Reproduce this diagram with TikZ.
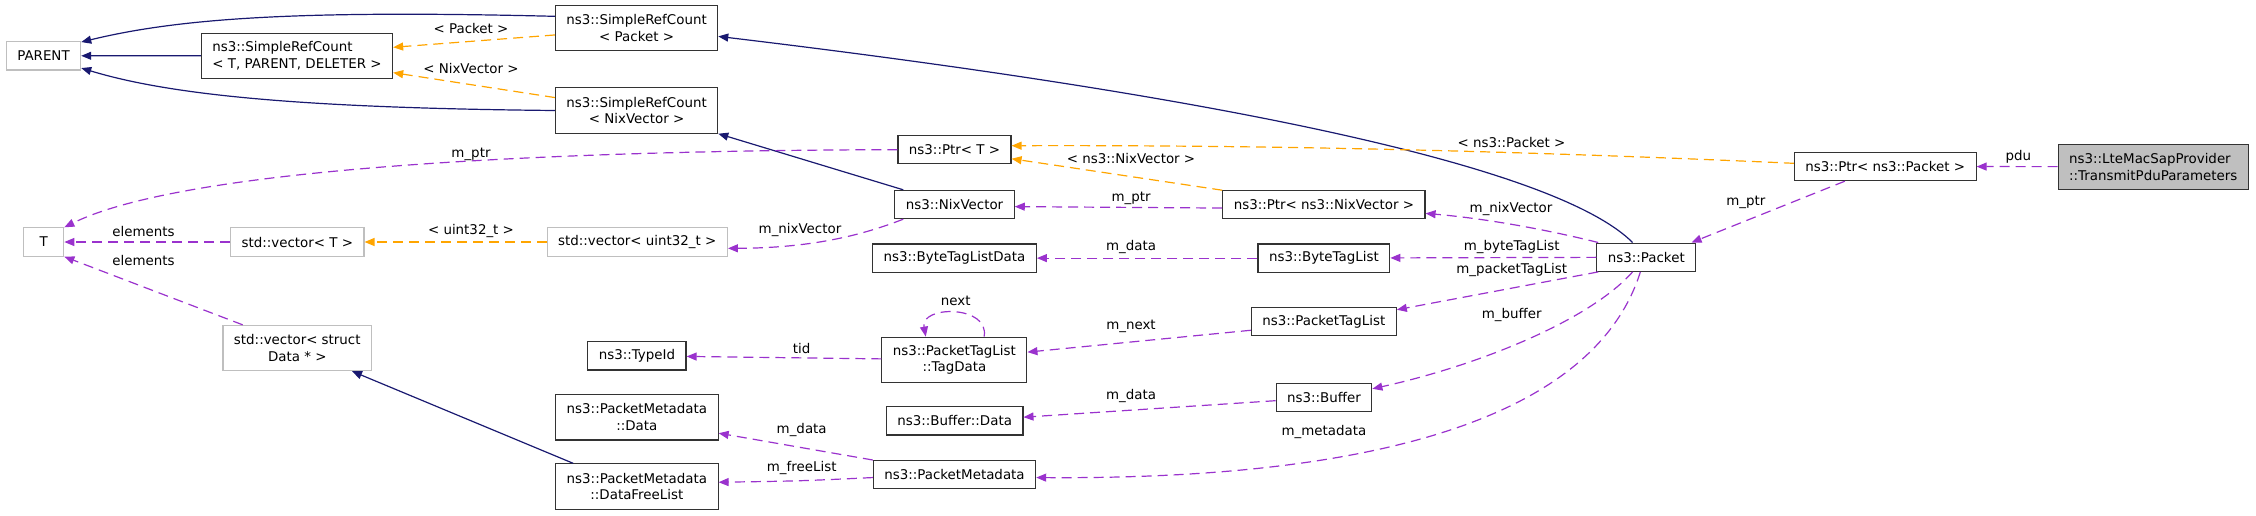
\documentclass[tikz,border=0pt]{standalone}
\usepackage{fontspec}
\setmainfont{DejaVu Sans}
\usepackage{tikz}
\usetikzlibrary{positioning,arrows.meta}
\definecolor{navyblue}{HTML}{191970}
\definecolor{tmplorange}{HTML}{FFA500}
\definecolor{usepurple}{HTML}{9A32CD}
\definecolor{lightgrey}{HTML}{BFBFBF}
\newcommand{\dfont}{\fontsize{13.4}{16.7}\selectfont}

\begin{document}
\begin{tikzpicture}[
  x=1pt, y=-1pt,
  >={Triangle[length=10pt,width=8pt]},
  box/.style={rectangle, draw=black!80, line width=1.1pt, font=\dfont, inner xsep=11pt, inner ysep=2pt, minimum height=28.3pt, align=center},
  extbox/.style={box, draw=lightgrey},
  tall/.style={minimum height=45.3pt},
  inh/.style={->, draw=navyblue, line width=1.2pt},
  tmpl/.style={->, draw=tmplorange, line width=1.2pt, dash pattern=on 10pt off 6pt},
  use/.style={->, draw=usepurple, line width=1.2pt, dash pattern=on 10pt off 6pt},
  lbl/.style={font=\dfont, inner sep=0pt}
]
\useasboundingbox (0,0) rectangle (2256,515);

\node[extbox] (parent) at (43.5,55.8) {PARENT};
\node[box, tall, align=left] (src) at (297,55.7) {ns3::SimpleRefCount\\< T, PARENT, DELETER >};
\node[box, tall] (srcpkt) at (636.6,27.8) {ns3::SimpleRefCount\\< Packet >};
\node[box, tall] (srcnix) at (636.6,110.5) {ns3::SimpleRefCount\\< NixVector >};
\node[extbox, minimum width=40pt] (t) at (43.8,242) {T};
\node[extbox] (vect) at (297.3,242) {std::vector< T >};
\node[extbox] (vecu) at (637.3,242) {std::vector< uint32\_t >};
\node[extbox, tall] (vecd) at (297.3,348) {std::vector< struct\\Data * >};
\node[box] (nix) at (954.5,204.5) {ns3::NixVector};
\node[box, above=25.4pt of nix] (ptrt) {ns3::Ptr< T >};
\node[box, below=24.2pt of nix] (btld) {ns3::ByteTagListData};
\node[box] (ptrnix) at (1323.9,204.5) {ns3::Ptr< ns3::NixVector >};
\node[box, below=24.2pt of ptrnix] (btl) {ns3::ByteTagList};
\node[box] (ptl) at (1323.8,321.3) {ns3::PacketTagList};
\node[box] (buf) at (1324,397.3) {ns3::Buffer};
\node[box] (packet) at (1646.3,257.2) {ns3::Packet};
\node[box] (ptrpkt) at (1885.2,166.5) {ns3::Ptr< ns3::Packet >};
\node[box, tall, align=left, fill=lightgrey] (lte) at (2153.3,166.7) {ns3::LteMacSapProvider\\::TransmitPduParameters};
\node[box] (typeid) at (636.9,355.8) {ns3::TypeId};
\node[box, tall] (tagdata) at (954.4,359.8) {ns3::PacketTagList\\::TagData};
\node[box] (bufd) at (954.7,420.8) {ns3::Buffer::Data};
\node[box, tall] (pmd) at (636.9,417.3) {ns3::PacketMetadata\\::Data};
\node[box, tall] (pmfl) at (636.9,486.5) {ns3::PacketMetadata\\::DataFreeList};
\node[box] (pm) at (954.5,474.7) {ns3::PacketMetadata};

% base classes
\draw[inh] (src) -- (parent);
\draw[inh] (srcpkt.172) .. controls (300,10) and (180,18) .. (parent.20);
\draw[inh] (srcnix.west) .. controls (300,108) and (170,95) .. (parent.-18);
\draw[inh] (packet.133) .. controls (1560,170) and (1250,100) .. (srcpkt.-6);
\draw[inh] (nix.164) -- (srcnix.south east);
\draw[inh] (pmfl.160) -- (vecd.-23);

% template instances
\draw[tmpl] (srcpkt.185) -- (src.5);
\draw[tmpl] (srcnix.171) -- (src.-10);
\draw[tmpl] (vecu) -- (vect);
\draw[tmpl] (ptrpkt.178) .. controls (1500,150) and (1250,145) .. (ptrt.4);
\draw[tmpl] (ptrnix.172) -- (ptrt.-9);

% members
\draw[use] (lte) -- (ptrpkt);
\draw[use] (ptrpkt.200) -- (packet.18);
\draw[use] (ptrt.west) .. controls (650,150) and (200,160) .. (t.north east);
\draw[use] (vect) -- (t);
\draw[use] (vecd.157) -- (t.south east);
\draw[use] (nix.196) .. controls (870,232) and (820,248) .. (vecu.-4);
\draw[use] (ptrnix.182) -- (nix.-2);
\draw[use] (packet.163) .. controls (1540,228) and (1480,218) .. (ptrnix.-5);
\draw[use] (packet) -- (btl);
\draw[use] (btl) -- (btld);
\draw[use] (packet.197) -- (ptl.9);
\draw[use] (ptl.187) -- (tagdata.6);
\draw[use] (tagdata.38) .. controls (990,305) and (920,305) .. (tagdata.141);
\draw[use] (tagdata) -- (typeid);
\draw[use] (packet.227) .. controls (1590,320) and (1480,365) .. (buf.10);
\draw[use] (buf.184) -- (bufd.3);
\draw[use] (packet.248) .. controls (1600,400) and (1420,480) .. (pm.-2);
\draw[use] (pm.north west) -- (pmd.-11);
\draw[use] (pm.182) .. controls (800,481) .. (pmfl.3);

% edge labels
\node[lbl] (lpkt) at (471,28) {< Packet >};
\node[lbl] (lnix) at (471,68) {< NixVector >};
\node[lbl] (lptrt) at (471,154) {m\_ptr};
\node[lbl] (lel1) at (143.5,231) {elements};
\node[lbl] (lel2) at (143.5,260) {elements};
\node[lbl] (luint) at (471,231) {< uint32\_t >};
\node[lbl] (lnixv) at (800,230) {m\_nixVector};
\node[lbl] (lptrnix) at (1131,158.3) {< ns3::NixVector >};
\node[lbl] (lptrpkt) at (1511.5,142.7) {< ns3::Packet >};
\node[lbl] (lmptr) at (1131,198.3) {m\_ptr};
\node[lbl] (lmnix) at (1511,208.7) {m\_nixVector};
\node[lbl] (lbtl) at (1511.7,247.3) {m\_byteTagList};
\node[lbl] (lptl) at (1511.7,270) {m\_packetTagList};
\node[lbl] (lbuf) at (1511.7,315) {m\_buffer};
\node[lbl] (lmeta) at (1324,431.7) {m\_metadata};
\node[lbl] (lbdata) at (1131,247.3) {m\_data};
\node[lbl] (lnext) at (1131,326.7) {m\_next};
\node[lbl] (lbufd) at (1131,395.7) {m\_data};
\node[lbl] (lloop) at (955.7,301) {next};
\node[lbl] (ltid) at (801.7,348.3) {tid};
\node[lbl] (lpmd) at (801.7,430) {m\_data};
\node[lbl] (lfree) at (801.7,468.3) {m\_freeList};
\node[lbl] (lpdu) at (2018.3,156.7) {pdu};
\node[lbl] (lpptr) at (1745.9,202.3) {m\_ptr};
\end{tikzpicture}
\end{document}
